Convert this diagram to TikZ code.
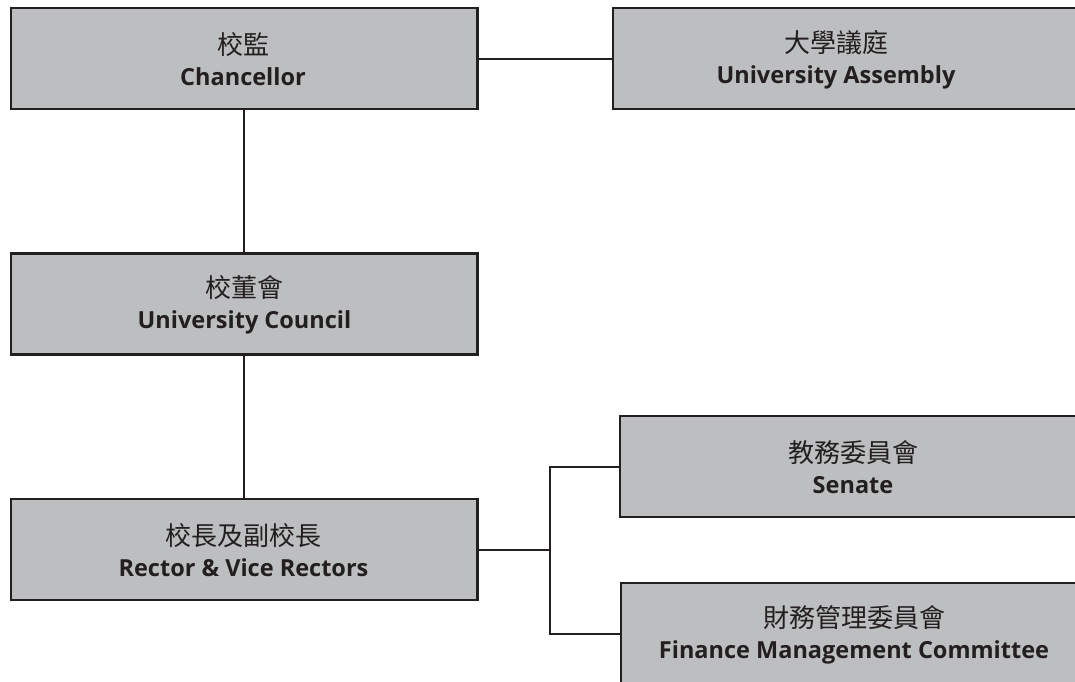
\documentclass[tikz,border=0pt]{standalone}
\usepackage{fontspec}
\setmainfont{Open Sans}
\newfontfamily\cjk{Noto Sans CJK TC}
\definecolor{boxgray}{RGB}{189,190,192}
\definecolor{ink}{RGB}{35,31,32}
\newcommand{\zh}[1]{{\cjk\mdseries\fontsize{26}{30}\selectfont #1}}
\begin{document}
\begin{tikzpicture}[x=1pt,y=-1pt,
  box/.style={draw=ink, fill=boxgray, line width=2.6pt, inner sep=0pt, minimum height=101pt},
  lbl/.style={align=center, inner sep=0pt, text=ink, yshift=-1pt, font=\fontsize{23.5}{31}\selectfont\bfseries},
  conn/.style={draw=ink, line width=2pt}]
\useasboundingbox (0,0) rectangle (1075,681);
\clip (0,0) rectangle (1075,681);
% boxes
\node[box, minimum width=466.5pt] (chan) at (244.25,58.5) {};
\node[box, minimum width=466.5pt] (council) at (244.25,303.75) {};
\node[box, minimum width=466.5pt] (rector) at (244.25,549.5) {};
\node[box, minimum width=487pt] (asm) at (856.5,58.5) {};
\node[box, minimum width=480pt] (senate) at (860,466.5) {};
\node[box, minimum width=479pt] (finance) at (860.5,633.5) {};
% texts
\node[lbl] (chanT) at (243,58.5) {\zh{校監}\\Chancellor};
\node[lbl] (councilT) at (244.5,303.75) {\zh{校董會}\\University Council};
\node[lbl] (rectorT) at (243.5,549.5) {\zh{校長及副校長}\\Rector \& Vice Rectors};
\node[lbl] (asmT) at (836,58.5) {\zh{大學議庭}\\University Assembly};
\node[lbl] (senateT) at (853,466.5) {\zh{教務委員會}\\Senate};
\node[lbl] (financeT) at (854,633.5) {\zh{財務管理委員會}\\Finance Management Committee};
% connectors
\coordinate (br) at (549.5,549.5);
\draw[conn] (chan.south) -- (council.north);
\draw[conn] (council.south) -- (rector.north);
\draw[conn] (chan.east) -- (asm.west);
\draw[conn] (rector.east) -- (br);
\draw[conn] (senate.west) -| (br) |- (finance.west);
\end{tikzpicture}
\end{document}
